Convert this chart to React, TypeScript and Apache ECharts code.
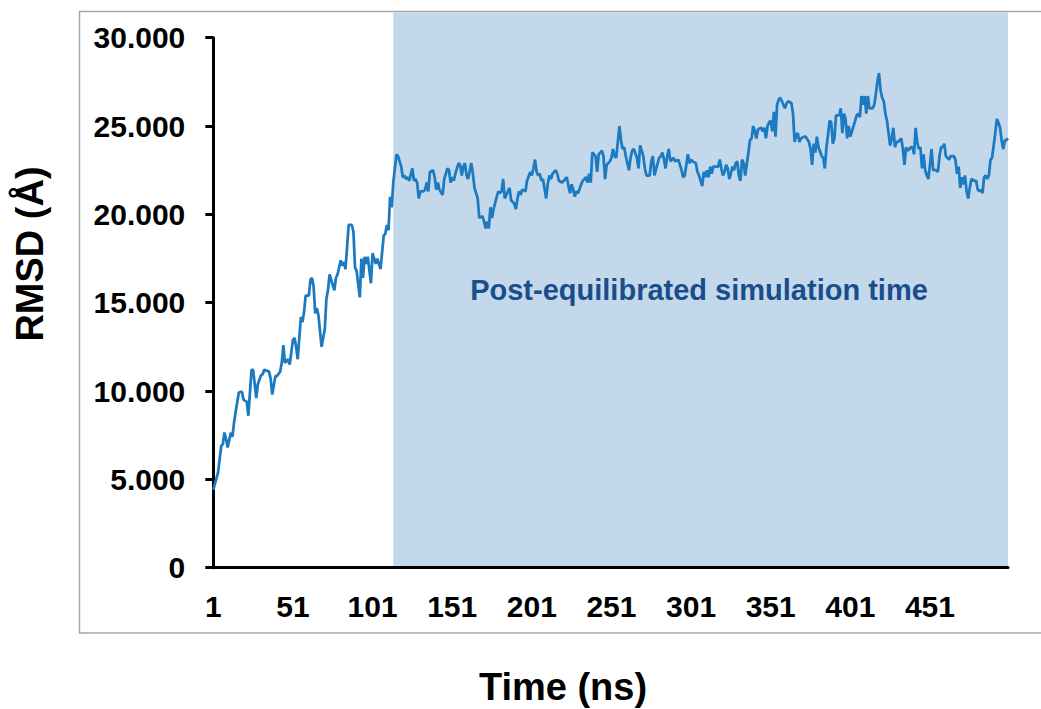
import React, { useEffect, useRef } from "react";
import * as echarts from "echarts";

// ---- data ----
const categories: string[] = Array.from({ length: 500 }, (_, i) => String(i + 1));
const tickLabelsX = ["1", "51", "101", "151", "201", "251", "301", "351", "401", "451"];

const timeNs: number[] = [
  1, 4, 6, 7, 8, 9, 10, 12, 13, 14, 15, 17, 18, 19, 20, 22, 23, 25, 26, 28,
  29, 31, 32, 33, 36, 37, 38, 40, 41, 43, 44, 45, 46, 48, 49, 50, 51, 52, 53, 54,
  56, 57, 58, 59, 61, 62, 63, 64, 65, 66, 67, 69, 71, 72, 73, 74, 75, 77, 78, 79,
  81, 82, 83, 84, 86, 88, 89, 90, 91, 93, 94, 95, 96, 97, 98, 100, 101, 102, 103, 104,
  106, 108, 109, 110, 111, 112, 113, 114, 116, 117, 119, 120, 121, 122, 123, 124, 126, 127, 128, 129,
  130, 131, 133, 134, 135, 136, 137, 139, 140, 141, 142, 143, 145, 146, 148, 149, 150, 151, 152, 153,
  155, 156, 157, 158, 159, 160, 161, 163, 164, 165, 167, 168, 170, 171, 172, 173, 174, 175, 176, 177,
  179, 180, 181, 182, 183, 184, 186, 187, 188, 190, 191, 192, 193, 194, 195, 197, 198, 200, 201, 202,
  203, 204, 205, 206, 207, 208, 210, 211, 212, 213, 214, 216, 217, 218, 220, 221, 223, 224, 225, 226,
  227, 228, 229, 230, 232, 233, 235, 236, 237, 238, 239, 241, 242, 243, 245, 246, 247, 248, 250, 251,
  252, 253, 254, 256, 257, 258, 259, 260, 262, 263, 264, 265, 267, 268, 269, 271, 272, 273, 275, 276,
  277, 278, 280, 281, 282, 283, 284, 285, 286, 287, 288, 290, 291, 293, 294, 295, 296, 297, 299, 300,
  301, 302, 304, 305, 306, 308, 309, 310, 311, 312, 313, 314, 315, 316, 318, 319, 320, 321, 322, 323,
  324, 325, 326, 327, 328, 329, 330, 331, 332, 333, 334, 335, 337, 338, 339, 340, 341, 342, 343, 345,
  346, 347, 348, 349, 350, 351, 352, 353, 354, 355, 356, 357, 358, 360, 361, 362, 364, 365, 366, 367,
  368, 369, 370, 372, 373, 375, 376, 377, 378, 379, 380, 381, 383, 384, 385, 386, 387, 388, 389, 390,
  391, 392, 393, 394, 395, 396, 397, 398, 399, 400, 401, 402, 404, 405, 406, 407, 408, 409, 410, 411,
  412, 413, 415, 416, 417, 418, 419, 420, 421, 422, 423, 424, 425, 426, 427, 428, 429, 430, 431, 433,
  434, 435, 436, 437, 439, 440, 441, 442, 443, 444, 445, 446, 447, 448, 449, 450, 451, 452, 453, 455,
  456, 457, 458, 459, 460, 461, 463, 464, 466, 467, 468, 469, 470, 471, 472, 473, 474, 475, 476, 477,
  479, 480, 481, 482, 483, 484, 485, 486, 487, 488, 489, 490, 491, 492, 493, 494, 495, 496, 497, 498,
  499, 500,
];

const rmsd: number[] = [
  4.4, 5.4, 6.9, 7.0, 7.65, 7.3, 6.8, 7.65, 7.4, 8.2, 8.8, 9.9, 9.95, 9.95, 9.5, 9.4, 8.6, 11.2, 11.2, 9.6,
  10.4, 10.9, 10.95, 11.2, 11.1, 10.7, 9.8, 10.85, 10.85, 11.1, 11.6, 12.6, 11.6, 11.8, 11.5, 12.2, 12.9, 13.0, 12.5, 11.8,
  14.2, 13.9, 14.5, 15.4, 15.4, 16.3, 16.4, 15.9, 14.4, 14.7, 14.3, 12.5, 13.5, 15.2, 15.7, 16.6, 16.3, 15.7, 16.4, 16.6,
  17.4, 17.1, 17.3, 16.9, 19.4, 19.4, 19.0, 17.0, 16.8, 15.3, 17.5, 16.4, 17.6, 17.2, 17.6, 16.1, 17.8, 17.5, 17.2, 17.5,
  16.9, 18.8, 18.9, 19.4, 19.1, 21.0, 20.4, 21.8, 23.4, 23.3, 22.7, 22.1, 22.2, 22.0, 22.1, 21.9, 22.6, 21.9, 22.0, 21.8,
  20.9, 21.3, 21.3, 21.4, 21.8, 21.3, 22.4, 22.5, 22.1, 21.4, 21.8, 21.4, 21.1, 22.0, 22.6, 22.5, 21.8, 22.1, 21.9, 22.3,
  22.9, 22.8, 22.2, 22.7, 22.9, 22.2, 22.0, 22.9, 22.3, 21.5, 20.9, 19.8, 19.9, 19.6, 19.2, 19.6, 19.2, 20.4, 19.8, 20.3,
  21.0, 21.3, 21.2, 21.3, 22.0, 20.9, 21.3, 21.5, 20.8, 20.6, 20.3, 20.9, 21.3, 21.1, 21.4, 21.3, 21.9, 22.4, 22.2, 22.6,
  23.1, 22.4, 22.2, 22.3, 21.9, 22.0, 20.9, 21.7, 22.2, 22.0, 22.3, 22.5, 22.3, 21.9, 21.8, 21.9, 22.1, 21.6, 21.2, 21.7,
  21.4, 21.0, 21.3, 21.2, 21.7, 21.9, 22.1, 21.8, 22.3, 21.8, 23.5, 23.3, 22.4, 23.4, 23.6, 23.3, 22.0, 22.8, 23.0, 23.2,
  23.7, 23.3, 23.2, 25.0, 24.2, 23.7, 23.8, 23.3, 22.5, 23.2, 23.6, 23.7, 23.2, 22.6, 23.9, 23.3, 22.6, 22.2, 22.2, 23.0,
  23.3, 22.2, 22.9, 23.2, 23.3, 23.5, 23.1, 22.6, 23.3, 23.7, 23.0, 23.2, 23.0, 23.1, 22.8, 22.5, 22.1, 22.2, 23.4, 22.9,
  23.1, 23.0, 22.9, 22.4, 22.2, 21.6, 22.4, 22.1, 22.5, 22.1, 22.7, 22.3, 22.7, 22.7, 22.7, 23.1, 22.6, 22.2, 22.4, 22.8,
  22.6, 22.0, 22.3, 22.7, 22.5, 22.9, 23.0, 22.2, 21.9, 23.1, 22.9, 22.2, 23.5, 24.2, 24.3, 25.0, 24.7, 24.3, 24.8, 24.9,
  24.7, 24.9, 24.3, 25.0, 25.2, 25.3, 24.7, 25.8, 24.4, 26.2, 26.5, 26.6, 26.4, 26.0, 26.3, 26.4, 26.3, 25.7, 24.1, 24.5,
  24.6, 24.1, 24.3, 24.4, 24.4, 24.1, 23.7, 22.8, 24.0, 23.5, 24.4, 23.8, 23.3, 23.2, 22.6, 23.8, 24.5, 25.3, 25.2, 24.0,
  24.3, 25.6, 25.6, 25.6, 26.0, 24.6, 25.7, 25.4, 24.3, 25.0, 24.4, 24.7, 25.3, 25.6, 25.7, 25.5, 26.7, 26.2, 26.7, 25.7,
  26.7, 26.0, 26.0, 26.2, 26.8, 27.5, 28.0, 27.0, 26.6, 26.4, 25.7, 25.3, 24.6, 23.9, 24.3, 24.9, 23.8, 24.1, 24.1, 24.3,
  23.7, 22.8, 23.8, 23.6, 23.8, 23.8, 23.4, 24.9, 24.1, 23.7, 23.8, 22.6, 23.4, 22.5, 22.2, 22.0, 22.8, 23.7, 22.5, 22.5,
  22.4, 23.3, 23.8, 23.8, 24.0, 23.3, 23.1, 23.3, 23.3, 23.1, 22.3, 22.7, 21.5, 22.1, 21.7, 22.2, 21.3, 20.9, 21.5, 22.0,
  21.9, 21.9, 21.4, 21.3, 21.4, 21.2, 22.1, 22.2, 22.0, 22.2, 23.1, 23.2, 23.9, 24.6, 25.4, 25.2, 24.9, 24.2, 23.7, 24.2,
  24.2, 24.3,
];

const shadeStart = "114";
const shadeEnd = "500";
const annotation = "Post-equilibrated simulation time";
const yTitle = "RMSD (Å)";
const xTitle = "Time (ns)";

const FONT = "'Liberation Sans', Arial, Helvetica, sans-serif";
const LINE_COLOR = "#1C7AC0";
const SHADE_COLOR = "#C4D8EC";
const NOTE_COLOR = "#1A4E8A";

export default function App() {
  const ref = useRef<HTMLDivElement>(null);

  useEffect(() => {
    if (!ref.current) return;
    const chart = echarts.init(ref.current, undefined, { renderer: "svg" });
    const seriesData = timeNs.map((t, i) => [String(t), rmsd[i]]);

    chart.setOption({
      animation: false,
      backgroundColor: "#ffffff",
      grid: {
        left: 213.3,
        right: 33,
        top: 37.7,
        bottom: 141.3,
        containLabel: false,
      },
      xAxis: {
        type: "category",
        data: categories,
        boundaryGap: false,
        axisLine: { show: true, lineStyle: { color: "#000", width: 3 } },
        axisTick: { show: false },
        splitLine: { show: false },
        axisLabel: {
          interval: 49,
          margin: 24,
          color: "#000",
          fontFamily: FONT,
          fontWeight: "bold",
          fontSize: 30,
          formatter: (v: string) => (tickLabelsX.includes(v) ? v : ""),
        },
      },
      yAxis: {
        type: "value",
        min: 0,
        max: 30,
        interval: 5,
        axisLine: { show: true, lineStyle: { color: "#000", width: 3 } },
        axisTick: { show: true, inside: false, length: 8, lineStyle: { color: "#000", width: 3 } },
        splitLine: { show: false },
        axisLabel: {
          margin: 28,
          color: "#000",
          fontFamily: FONT,
          fontWeight: "bold",
          fontSize: 30,
          formatter: (v: number) => (v === 0 ? "0" : v.toFixed(3)),
        },
      },
      series: [
        {
          type: "line",
          data: seriesData,
          showSymbol: false,
          symbol: "none",
          smooth: false,
          lineStyle: { color: LINE_COLOR, width: 2.75 },
          z: 5,
        },
      ],
    });

    const xa = chart.convertToPixel({ xAxisIndex: 0 }, shadeStart) as number;
    const xb = chart.convertToPixel({ xAxisIndex: 0 }, shadeEnd) as number;
    const y0 = chart.convertToPixel({ yAxisIndex: 0 }, 0) as number;

    chart.setOption({
      graphic: [
        {
          id: "frame",
          type: "rect",
          z: -20,
          silent: true,
          shape: { x: 79.5, y: 11.5, width: 1100, height: 621.5 },
          style: { fill: "none", stroke: "#A6A6A6", lineWidth: 1.5 },
        },
        {
          id: "shade",
          type: "rect",
          z: -10,
          silent: true,
          shape: { x: xa, y: 12.2, width: xb - xa, height: y0 - 12.2 },
          style: { fill: SHADE_COLOR },
        },
        {
          id: "note",
          type: "text",
          z: 10,
          x: 699,
          y: 290,
          style: {
            text: annotation,
            fill: NOTE_COLOR,
            font: `bold 29px ${FONT}`,
            align: "center",
            verticalAlign: "middle",
          },
        },
        {
          id: "ytitle",
          type: "text",
          z: 10,
          x: 30,
          y: 254,
          rotation: Math.PI / 2,
          style: {
            text: yTitle,
            fill: "#000",
            font: `bold 38px ${FONT}`,
            align: "center",
            verticalAlign: "middle",
          },
        },
        {
          id: "xtitle",
          type: "text",
          z: 10,
          x: 563,
          y: 687,
          style: {
            text: xTitle,
            fill: "#000",
            font: `bold 38px ${FONT}`,
            align: "center",
            verticalAlign: "middle",
          },
        },
      ],
    });

    return () => chart.dispose();
  }, []);

  return (
    <div
      ref={ref}
      style={{ position: "fixed", left: 0, top: 0, width: 1041, height: 709, background: "#fff" }}
    />
  );
}
